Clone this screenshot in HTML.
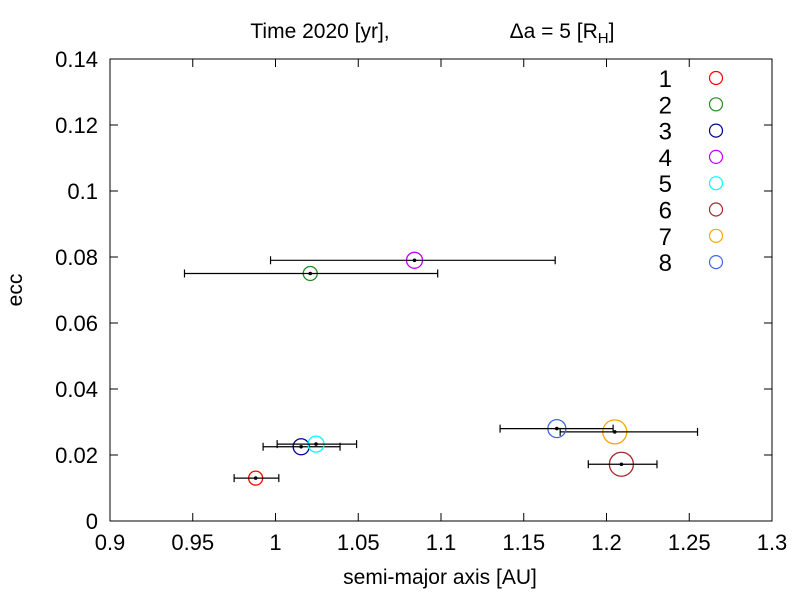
<!DOCTYPE html>
<html><head><meta charset="utf-8"><style>
body{margin:0;background:#fff}
svg{display:block;font-family:"Liberation Sans",sans-serif}
</style></head><body>
<svg id="c" width="800" height="600">
<text x="320" y="38" font-size="21" text-anchor="middle">Time 2020 [yr],</text>
<text x="562" y="38" font-size="21" text-anchor="middle">Δa = 5 [R<tspan font-size="15" dy="5">H</tspan><tspan dy="-5">]</tspan></text>
<rect x="110" y="59" width="662" height="462" fill="none" stroke="#000"/>
<g id="axes"></g><g id="marks"></g><g id="legend"></g>
<text x="440" y="584" font-size="21" text-anchor="middle">semi-major axis [AU]</text>
<text transform="translate(22,290) rotate(-90)" font-size="21" text-anchor="middle">ecc</text>
</svg>
<script>
const labels=["1","2","3","4","5","6","7","8"];
const aVals=[0.988,1.021,1.0155,1.084,1.0245,1.209,1.205,1.170];
const eVals=[0.013,0.075,0.0225,0.079,0.0233,0.0172,0.027,0.028];
const aLo=[0.975,0.945,0.9925,0.997,1.001,1.189,1.172,1.1357];
const aHi=[1.002,1.098,1.039,1.169,1.049,1.2305,1.255,1.204];
const sizes=[7,7,8,8,8,12,12,9];
const colors=["#ff0000","#228b22","#00008b","#c000ff","#00ffff","#a52a2a","#ffa500","#4169e1"];
const xTicks=[0.9,0.95,1,1.05,1.1,1.15,1.2,1.25,1.3];
const xTickLabels=["0.9","0.95","1","1.05","1.1","1.15","1.2","1.25","1.3"];
const yTicks=[0,0.02,0.04,0.06,0.08,0.1,0.12,0.14];
const yTickLabels=["0","0.02","0.04","0.06","0.08","0.1","0.12","0.14"];
const X=v=>110+(v-0.9)/0.4*662, Y=v=>521-v/0.14*462;
const NS="http://www.w3.org/2000/svg";
function mk(t,a,p){const e=document.createElementNS(NS,t);for(const k in a)e.setAttribute(k,a[k]);p.appendChild(e);return e;}
const ax=document.getElementById('axes');
xTicks.forEach((v,i)=>{
 const l=mk('path',{d:`M${X(v)},521v-8M${X(v)},59v8`,stroke:'#000'},ax);
 
 
 const t=mk('text',{x:X(v),y:550,'font-size':22,'text-anchor':'middle'},ax);t.textContent=xTickLabels[i];
 
 
});
yTicks.forEach((v,i)=>{
 const l=mk('path',{d:`M110,${Y(v)}h8M772,${Y(v)}h-8`,stroke:'#000'},ax);
 
 
 const t=mk('text',{x:98,y:Y(v)+8,'font-size':22,'text-anchor':'end'},ax);t.textContent=yTickLabels[i];
 
 
});
const mg=document.getElementById('marks'),lg=document.getElementById('legend');
labels.forEach((lab,i)=>{
 const x=X(aVals[i]),y=Y(eVals[i]),x0=X(aLo[i]),x1=X(aHi[i]);
 const c=mk('circle',{cx:x,cy:y,r:sizes[i],fill:'none',stroke:colors[i],'stroke-width':1.3},mg);
 
 
 const e=mk('path',{d:`M${x0},${y}H${x1}M${x0},${y-4}v8M${x1},${y-4}v8`,stroke:'#000','stroke-width':1.2},mg);
 
 
 const d=mk('circle',{cx:x,cy:y,r:1.8,fill:'#000'},mg);
 
 
 const ly=78+i*26.3;
 const t=mk('text',{x:672,y:ly+9,'font-size':24,'text-anchor':'end'},lg);t.textContent=lab;
 
 
 const lc=mk('circle',{cx:716,cy:ly,r:6.5,fill:'none',stroke:colors[i],'stroke-width':1.2},lg);
 
 
});
</script>
</body></html>
